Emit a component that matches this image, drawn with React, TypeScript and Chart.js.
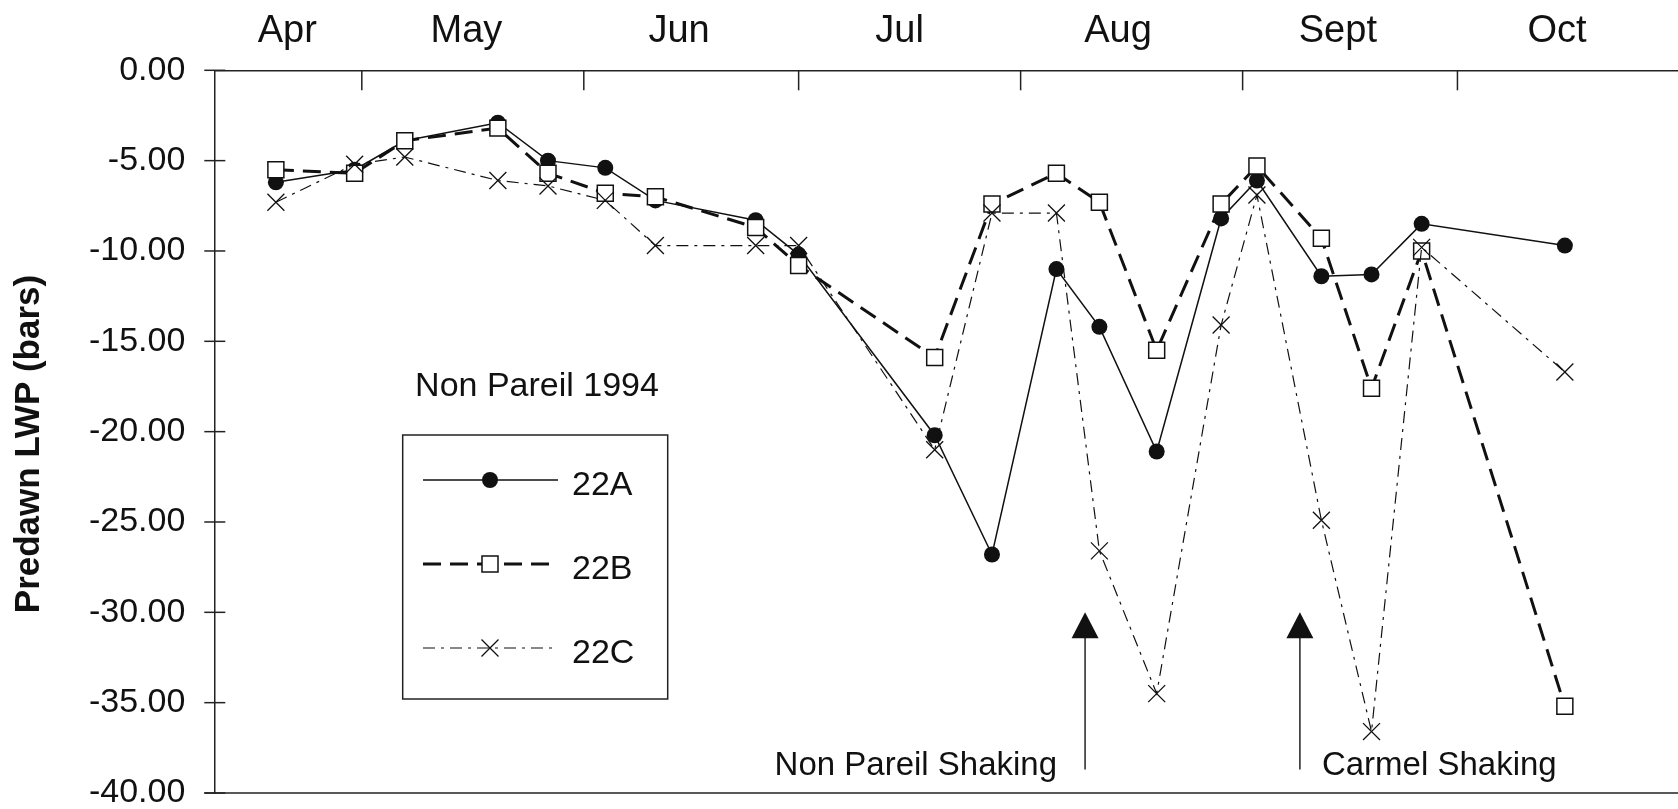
import React, { useEffect, useRef } from 'react';
import { Chart, registerables } from 'chart.js';

Chart.register(...registerables);

// ---- data ----
const sampleDates = [
  '04-19', '04-30', '05-07', '05-20', '05-27', '06-04', '06-11', '06-25', '07-01', '07-20',
  '07-28', '08-06', '08-12', '08-20', '08-29', '09-03', '09-12', '09-19', '09-26', '10-16',
];
const series22A = [-6.2, -5.5, -3.9, -2.9, -5.0, -5.4, -7.2, -8.3, -10.2, -20.2, -26.8, -11.0, -14.2, -21.1, -8.2, -6.1, -11.4, -11.3, -8.5, -9.7];
const series22B = [-5.5, -5.7, -3.9, -3.2, -5.7, -6.8, -7.0, -8.7, -10.8, -15.9, -7.4, -5.7, -7.3, -15.5, -7.4, -5.3, -9.3, -17.6, -10.0, -35.2];
const series22C = [-7.3, -5.2, -4.8, -6.1, -6.4, -7.2, -9.7, -9.7, -9.7, -21.0, -7.9, -7.9, -26.6, -34.5, -14.1, -6.9, -24.9, -36.6, -9.8, -16.7];
const seriesNames = ['22A', '22B', '22C'];

const monthLabels = ['Apr', 'May', 'Jun', 'Jul', 'Aug', 'Sept', 'Oct'];
const monthLabelDays = [19.6, 44.6, 74.3, 105.1, 135.6, 166.3, 196.9];
const monthStartDates = ['05-01', '06-01', '07-01', '08-01', '09-01', '10-01'];

const shakingDates = ['08-10', '09-09'];
const shakingLabels = ['Non Pareil Shaking', 'Carmel Shaking'];
const arrowTipValue = -30;
const arrowTailValue = -38.7;

const chartTitle = 'Non Pareil 1994';
const yAxisTitle = 'Predawn LWP (bars)';
const yMin = -40;
const yMax = 0;
const yStep = 5;
const xMinDay = 9.4;
const xMaxDay = 213.8;

const FONT = "'Liberation Sans', Arial, Helvetica, sans-serif";
const INK = '#111';
const CANVAS_W = 1670;
const CANVAS_H = 801;

function toDay(md: string): number {
  const [m, d] = md.split('-').map(Number);
  return (Date.UTC(1994, m - 1, d) - Date.UTC(1994, 3, 1)) / 86400000;
}

const days = sampleDates.map(toDay);

const dashB = [18, 9];
const dashC = [12, 6, 3, 6];

function drawMarker(ctx: CanvasRenderingContext2D, kind: string, cx: number, cy: number) {
  ctx.save();
  ctx.setLineDash([]);
  ctx.strokeStyle = INK;
  if (kind === 'circle') {
    ctx.fillStyle = INK;
    ctx.beginPath();
    ctx.arc(cx, cy, 8, 0, Math.PI * 2);
    ctx.fill();
  } else if (kind === 'rect') {
    ctx.fillStyle = '#fff';
    ctx.lineWidth = 1.5;
    ctx.fillRect(cx - 8, cy - 8, 16, 16);
    ctx.strokeRect(cx - 8, cy - 8, 16, 16);
  } else {
    ctx.lineWidth = 1.3;
    ctx.beginPath();
    ctx.moveTo(cx - 8.5, cy - 8.5);
    ctx.lineTo(cx + 8.5, cy + 8.5);
    ctx.moveTo(cx + 8.5, cy - 8.5);
    ctx.lineTo(cx - 8.5, cy + 8.5);
    ctx.stroke();
  }
  ctx.restore();
}

const decorPlugin = {
  id: 'decor',
  afterDraw(chart: any) {
    const { ctx, chartArea: ca } = chart;
    const x = chart.scales.x;
    const y = chart.scales.y;
    ctx.save();
    ctx.strokeStyle = '#222';
    ctx.lineWidth = 1.5;
    const seg = (x1: number, y1: number, x2: number, y2: number) => {
      ctx.beginPath();
      ctx.moveTo(x1, y1);
      ctx.lineTo(x2, y2);
      ctx.stroke();
    };
    // bottom axis line
    seg(ca.left - 10, ca.bottom, ca.right, ca.bottom);
    // y tick marks crossing the axis
    y.ticks.forEach((t: any) => {
      const py = y.getPixelForValue(t.value);
      seg(ca.left - 10, py, ca.left + 11, py);
    });
    // top month boundary ticks (inward)
    monthStartDates.forEach((md) => {
      const px = x.getPixelForValue(toDay(md));
      seg(px, ca.top, px, ca.top + 20);
    });

    // arrows + shaking labels
    ctx.fillStyle = INK;
    ctx.font = `33px ${FONT}`;
    ctx.textBaseline = 'alphabetic';
    shakingDates.forEach((md, i) => {
      const px = x.getPixelForValue(toDay(md));
      const tip = y.getPixelForValue(arrowTipValue);
      const tail = y.getPixelForValue(arrowTailValue);
      ctx.lineWidth = 1.5;
      seg(px, tail, px, tip + 24);
      ctx.beginPath();
      ctx.moveTo(px, tip);
      ctx.lineTo(px - 13.5, tip + 26);
      ctx.lineTo(px + 13.5, tip + 26);
      ctx.closePath();
      ctx.fill();
      if (i === 0) {
        ctx.textAlign = 'right';
        ctx.fillText(shakingLabels[i], px - 28, ca.bottom - 18);
      } else {
        ctx.textAlign = 'left';
        ctx.fillText(shakingLabels[i], px + 22, ca.bottom - 18);
      }
    });

    // chart inner title
    ctx.textAlign = 'center';
    ctx.font = `34px ${FONT}`;
    ctx.fillText(chartTitle, 529, 388);

    // legend box
    const bx = 394.7, by = 427, bw = 265, bh = 264;
    ctx.lineWidth = 1.5;
    ctx.strokeStyle = '#222';
    ctx.strokeRect(bx, by, bw, bh);
    const rows = [472, 556, 640];
    const styles = [
      { dash: [] as number[], width: 1.5, marker: 'circle' },
      { dash: dashB, width: 3, marker: 'rect' },
      { dash: dashC, width: 1.2, marker: 'cross' },
    ];
    rows.forEach((ry, i) => {
      const s = styles[i];
      ctx.save();
      ctx.strokeStyle = INK;
      ctx.lineWidth = s.width;
      ctx.setLineDash(s.dash);
      ctx.beginPath();
      ctx.moveTo(415, ry);
      ctx.lineTo(550, ry);
      ctx.stroke();
      ctx.restore();
      drawMarker(ctx, s.marker, 482, ry);
      ctx.fillStyle = INK;
      ctx.textAlign = 'left';
      ctx.font = `34px ${FONT}`;
      ctx.fillText(seriesNames[i], 564, ry + 15);
    });

    // y axis title
    ctx.save();
    ctx.translate(21, 436);
    ctx.rotate(-Math.PI / 2);
    ctx.font = `bold 35px ${FONT}`;
    ctx.textAlign = 'center';
    ctx.textBaseline = 'middle';
    ctx.fillStyle = INK;
    ctx.fillText(yAxisTitle, 0, 0);
    ctx.restore();

    ctx.restore();
  },
};

export default function App() {
  const canvasRef = useRef<HTMLCanvasElement | null>(null);

  useEffect(() => {
    document.documentElement.style.overflow = 'hidden';
    document.body.style.overflow = 'hidden';
    const canvas = canvasRef.current;
    if (!canvas) return;
    Chart.defaults.font.family = FONT;
    const mk = (vals: number[]) => days.map((d, i) => ({ x: d, y: vals[i] }));
    const chart = new Chart(canvas, {
      type: 'line',
      data: {
        datasets: [
          {
            label: seriesNames[0],
            data: mk(series22A),
            borderColor: INK,
            borderWidth: 1.5,
            pointStyle: 'circle',
            pointRadius: 8,
            pointBackgroundColor: INK,
            pointBorderColor: INK,
            pointBorderWidth: 0,
            tension: 0,
            order: 3,
          },
          {
            label: seriesNames[1],
            data: mk(series22B),
            borderColor: INK,
            borderWidth: 3,
            borderDash: dashB,
            pointStyle: 'rect',
            pointRadius: 11.3,
            pointBackgroundColor: '#fff',
            pointBorderColor: INK,
            pointBorderWidth: 1.5,
            tension: 0,
            order: 2,
          },
          {
            label: seriesNames[2],
            data: mk(series22C),
            borderColor: INK,
            borderWidth: 1.2,
            borderDash: dashC,
            pointStyle: 'crossRot',
            pointRadius: 12,
            pointBackgroundColor: INK,
            pointBorderColor: INK,
            pointBorderWidth: 1.3,
            tension: 0,
            order: 1,
          },
        ] as any,
      },
      options: {
        animation: false,
        responsive: false,
        maintainAspectRatio: false,
        devicePixelRatio: 1,
        events: [],
        layout: { autoPadding: false, padding: { left: 0, top: 0, right: 0, bottom: 16 } },
        plugins: { legend: { display: false }, tooltip: { enabled: false } },
        scales: {
          x: {
            type: 'linear',
            position: 'top',
            min: xMinDay,
            max: xMaxDay,
            grid: { display: false, drawTicks: false },
            border: { display: true, color: '#222', width: 1.5 },
            afterBuildTicks: (scale: any) => {
              scale.ticks = monthLabelDays.map((v) => ({ value: v }));
            },
            afterFit: (scale: any) => {
              scale.height = 62.3;
              scale.paddingLeft = 0;
              scale.paddingRight = 0;
              scale.paddingTop = 0;
              scale.paddingBottom = 0;
            },
            ticks: {
              autoSkip: false,
              maxRotation: 0,
              minRotation: 0,
              padding: 16,
              color: INK,
              font: { size: 38, family: FONT },
              callback: (_v: any, i: number) => monthLabels[i],
            },
          },
          y: {
            type: 'linear',
            min: yMin,
            max: yMax,
            grid: { display: false, drawTicks: false },
            border: { display: true, color: '#222', width: 1.5 },
            afterFit: (scale: any) => {
              scale.width = 206.3;
              scale.paddingLeft = 0;
              scale.paddingRight = 0;
              scale.paddingTop = 0;
              scale.paddingBottom = 0;
            },
            ticks: {
              stepSize: yStep,
              padding: 29,
              color: INK,
              font: { size: 34, family: FONT },
              callback: (v: any) => Number(v).toFixed(2),
            },
          },
        },
      } as any,
      plugins: [decorPlugin],
    });
    return () => chart.destroy();
  }, []);

  return (
    <div style={{ position: 'fixed', left: 8, top: 8, width: CANVAS_W, height: CANVAS_H }}>
      <canvas
        ref={canvasRef}
        width={CANVAS_W}
        height={CANVAS_H}
        style={{ display: 'block', width: CANVAS_W, height: CANVAS_H }}
      />
    </div>
  );
}
